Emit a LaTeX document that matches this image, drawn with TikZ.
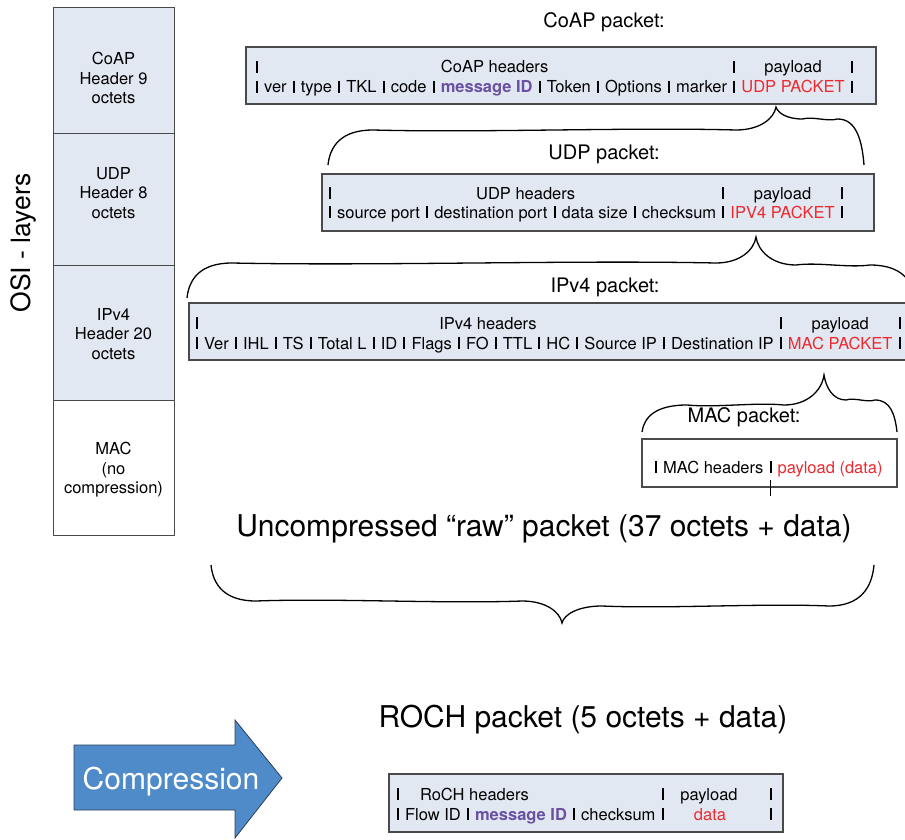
\documentclass[tikz,border=0pt]{standalone}
\usepackage{fontspec}
\setmainfont{TeX Gyre Heros}
\usetikzlibrary{calc}

\definecolor{boxfill}{HTML}{E2E8F2}
\definecolor{boxline}{HTML}{4A4A4A}
\definecolor{idpurple}{HTML}{6A51A3}
\definecolor{payred}{HTML}{EC2A2F}
\definecolor{arrowblue}{HTML}{508BC9}
\definecolor{arrowline}{HTML}{2C3E5A}

% field separator bar, gaps, message ID and payload highlighting
\newcommand\vbar{\rule{2pt}{0.74em}}
\newcommand\gap{\kern0.37em}
\newcommand\vb{\gap\vbar\gap}
\newcommand\msgid[1]{\textcolor{idpurple}{\bfseries #1}}
\newcommand\pay[1]{\textcolor{payred}{#1}}

% curly brace: lx ly tx ty rx ry (ends and tip), mL mR (arm levels)
\newcommand\cbrace[8]{%
  \pgfmathsetmacro\bwl{#3-#1}%
  \pgfmathsetmacro\bwr{#5-#3}%
  \pgfmathsetmacro\bEl{min(45,0.3*\bwl)}%
  \pgfmathsetmacro\bKl{min(40,0.3*\bwl)}%
  \pgfmathsetmacro\bEr{min(45,0.3*\bwr)}%
  \pgfmathsetmacro\bKr{min(40,0.3*\bwr)}%
  \pgfmathsetmacro\bDl{\bwl-\bEl-\bKl}%
  \pgfmathsetmacro\bDr{\bwr-\bEr-\bKr}%
  \pgfmathsetmacro\bwav{0.05*(#2-#4)}%
  \draw[bracestyle]
    ({#1},{#2}) .. controls ({#1+2},{#7+0.45*(#2-#7)}) and ({#1+0.3*\bEl},{#7}) .. ({#1+\bEl},{#7})
    .. controls ({#1+\bEl+0.3*\bDl},{#7+\bwav}) and ({#3-\bKl-0.3*\bDl},{#7-\bwav}) .. ({#3-\bKl},{#7})
    .. controls ({#3-0.4*\bKl},{#7}) and ({#3-2},{#7+0.5*(#4-#7)}) .. ({#3},{#4})
    .. controls ({#3+2},{#8+0.5*(#4-#8)}) and ({#3+0.4*\bKr},{#8}) .. ({#3+\bKr},{#8})
    .. controls ({#3+\bKr+0.3*\bDr},{#8-\bwav}) and ({#5-\bEr-0.3*\bDr},{#8+\bwav}) .. ({#5-\bEr},{#8})
    .. controls ({#5-0.3*\bEr},{#8}) and ({#5-2},{#8+0.45*(#6-#8)}) .. ({#5},{#6});
}

\begin{document}
\begin{tikzpicture}[x=1pt,y=-1pt,
  pktbox/.style={draw=boxline, fill=boxfill, line width=1.1pt, inner sep=0pt, outer sep=0pt, anchor=north west},
  layerbox/.style={draw=boxline, line width=1pt, inner sep=0pt, outer sep=0pt, anchor=north west, minimum width=121pt},
  fld/.style={inner sep=0pt, outer sep=0pt, font=\fontsize{16.5}{19.5}\selectfont},
  title/.style={inner sep=0pt, font=\fontsize{20}{24}\selectfont, anchor=base},
  big/.style={inner sep=0pt, font=\fontsize{30}{36}\selectfont, anchor=base},
  bracestyle/.style={line width=1.3pt, black},
  ]
\clip (0,0) rectangle (905,840);
\fill[white] (0,0) rectangle (905,840);

% ---------- OSI layer column ----------
\node[layerbox, fill=boxfill, minimum height=126pt] (lcoap) at (53,8) {};
\node[layerbox, fill=boxfill, minimum height=131pt] (ludp) at (53,134) {};
\node[layerbox, fill=boxfill, minimum height=135pt] (lip) at (53,265) {};
\node[layerbox, fill=white, minimum height=135pt] (lmac) at (53,400) {};
\node[fld, align=center] (tcoap) at (113.5,78) {CoAP\\Header 9\\octets};
\node[fld, align=center] (tudp) at (113.5,193) {UDP\\Header 8\\octets};
\node[fld, align=center] (tip) at (113.5,334) {IPv4\\Header 20\\octets};
\node[fld, align=center] (tmac) at (113.5,470) {MAC\\(no\\compression)};
\node[inner sep=0pt, font=\fontsize{26.5}{30}\selectfont, rotate=90] (osi) at (23,243) {OSI - layers};

% ---------- CoAP packet ----------
\node[title] (coaptitle) at (604,28) {CoAP packet:};
\node[pktbox, minimum width=630pt, minimum height=57pt] (coapbox) at (246,47) {};
\node[fld, anchor=base west] (coaphdr) at (256,93) {\vbar\gap ver\vb type\vb TKL\vb code\vb\msgid{message ID}\vb Token\vb Options\vb marker\gap};
\node[fld, anchor=base west] (coappay) at (coaphdr.base east) {\vbar\gap\pay{UDP PACKET}\gap\vbar};
\node[fld, anchor=base west] (coapb1) at ($(coaphdr.base west)+(0,-20)$) {\vbar};
\node[fld, anchor=base] (coaphl) at ($(coaphdr.base)+(0,-20)$) {CoAP headers};
\node[fld, anchor=base west] (coapb2) at ($(coappay.base west)+(0,-20)$) {\vbar};
\node[fld, anchor=base] (coappl) at ($(coappay.base)+(0,-20)$) {payload};
\node[fld, anchor=base east] (coapb3) at ($(coappay.base east)+(0,-20)$) {\vbar};

\cbrace{328}{165}{776}{107}{864}{165}{130}{119}

% ---------- UDP packet ----------
\node[title] (udptitle) at (604,160) {UDP packet:};
\node[pktbox, minimum width=552pt, minimum height=57pt] (udpbox) at (322,174) {};
\node[fld, anchor=base west] (udphdr) at (329,218) {\vbar\gap source port\vb destination port\vb data size\vb checksum\gap};
\node[fld, anchor=base west] (udppay) at (udphdr.base east) {\vbar\gap\pay{IPV4 PACKET}\gap\vbar};
\node[fld, anchor=base west] (udpb1) at ($(udphdr.base west)+(0,-19)$) {\vbar};
\node[fld, anchor=base] (udphl) at ($(udphdr.base)+(0,-19)$) {UDP headers};
\node[fld, anchor=base west] (udpb2) at ($(udppay.base west)+(0,-19)$) {\vbar};
\node[fld, anchor=base] (udppl) at ($(udppay.base)+(0,-19)$) {payload};
\node[fld, anchor=base east] (udpb3) at ($(udppay.base east)+(0,-19)$) {\vbar};

\cbrace{187}{298}{756}{237}{915}{300}{263}{265}

% ---------- IPv4 packet ----------
\node[title] (iptitle) at (605,292) {IPv4 packet:};
\node[pktbox, minimum width=730pt, minimum height=57pt] (ipbox) at (189,303) {};
\node[fld, anchor=base west] (iphdr) at (196,349) {\vbar\gap Ver\vb IHL\vb TS\vb Total L\vb ID\vb Flags\vb FO\vb TTL\vb HC\vb Source IP\vb Destination IP\gap};
\node[fld, anchor=base west] (ippay) at (iphdr.base east) {\vbar\gap\pay{MAC PACKET}\gap\vbar};
\node[fld, anchor=base west] (ipb1) at ($(iphdr.base west)+(0,-20)$) {\vbar};
\node[fld, anchor=base] (iphl) at ($(iphdr.base)+(0,-20)$) {IPv4 headers};
\node[fld, anchor=base west] (ipb2) at ($(ippay.base west)+(0,-20)$) {\vbar};
\node[fld, anchor=base] (ippl) at ($(ippay.base)+(0,-20)$) {payload};
\node[fld, anchor=base east] (ipb3) at ($(ippay.base east)+(0,-20)$) {\vbar};

\cbrace{642}{432}{824}{375}{897}{432}{405}{400}

% ---------- MAC packet ----------
\node[title] (mactitle) at (744,422) {MAC packet:};
\node[pktbox, fill=white, minimum width=255pt, minimum height=48pt] (macbox) at (642,439) {};
\node[fld, anchor=base west] (machdr) at (655,473) {\vbar\gap MAC headers\gap};
\node[fld, anchor=base west] (macbar) at (machdr.base east) {\vbar};
\node[fld, anchor=base west] (macpay) at (macbar.base east) {\gap\pay{payload (data)}};
\draw[line width=1.2pt] ([yshift=-7pt]macbar.south) -- ([yshift=-23pt]macbar.south);

% ---------- uncompressed total ----------
\node[big] (rawtitle) at (544,536) {Uncompressed “raw” packet (37 octets + data)};
\cbrace{211}{565}{562}{623}{874}{565}{601}{606}

% ---------- compression ----------
\path[draw=arrowline, fill=arrowblue, line width=0.8pt]
  (74,745) -- (235,745) -- (235,720) -- (282,778) -- (235,838) -- (235,810) -- (74,810) -- cycle;
\node[big, text=white] (comp) at (171,789) {Compression};

% ---------- ROCH packet ----------
\node[big] (rochtitle) at (583,727) {ROCH packet (5 octets + data)};
\node[pktbox, minimum width=394pt, minimum height=58pt] (rochbox) at (389,774) {};
\node[fld, anchor=base west] (rochhdr) at (397,820) {\vbar\gap Flow ID\vb\msgid{message ID}\vb checksum\gap};
\node[fld, anchor=base west] (rochb2) at (rochhdr.base east) {\vbar};
\node[fld, anchor=base] (rochdata) at (710,820) {\pay{data}};
\node[fld, anchor=base] (rochb3) at (771,820) {\vbar};
\node[fld, anchor=base west] (rochb1) at (397,800) {\vbar};
\node[fld, anchor=base west] (rochhl) at (420,800) {RoCH headers};
\node[fld, anchor=base west] (rochb4) at ($(rochb2.base west)+(0,-20)$) {\vbar};
\node[fld, anchor=base] (rochpl) at (709,800) {payload};
\node[fld, anchor=base] (rochb5) at (771,800) {\vbar};
\end{tikzpicture}
\end{document}
